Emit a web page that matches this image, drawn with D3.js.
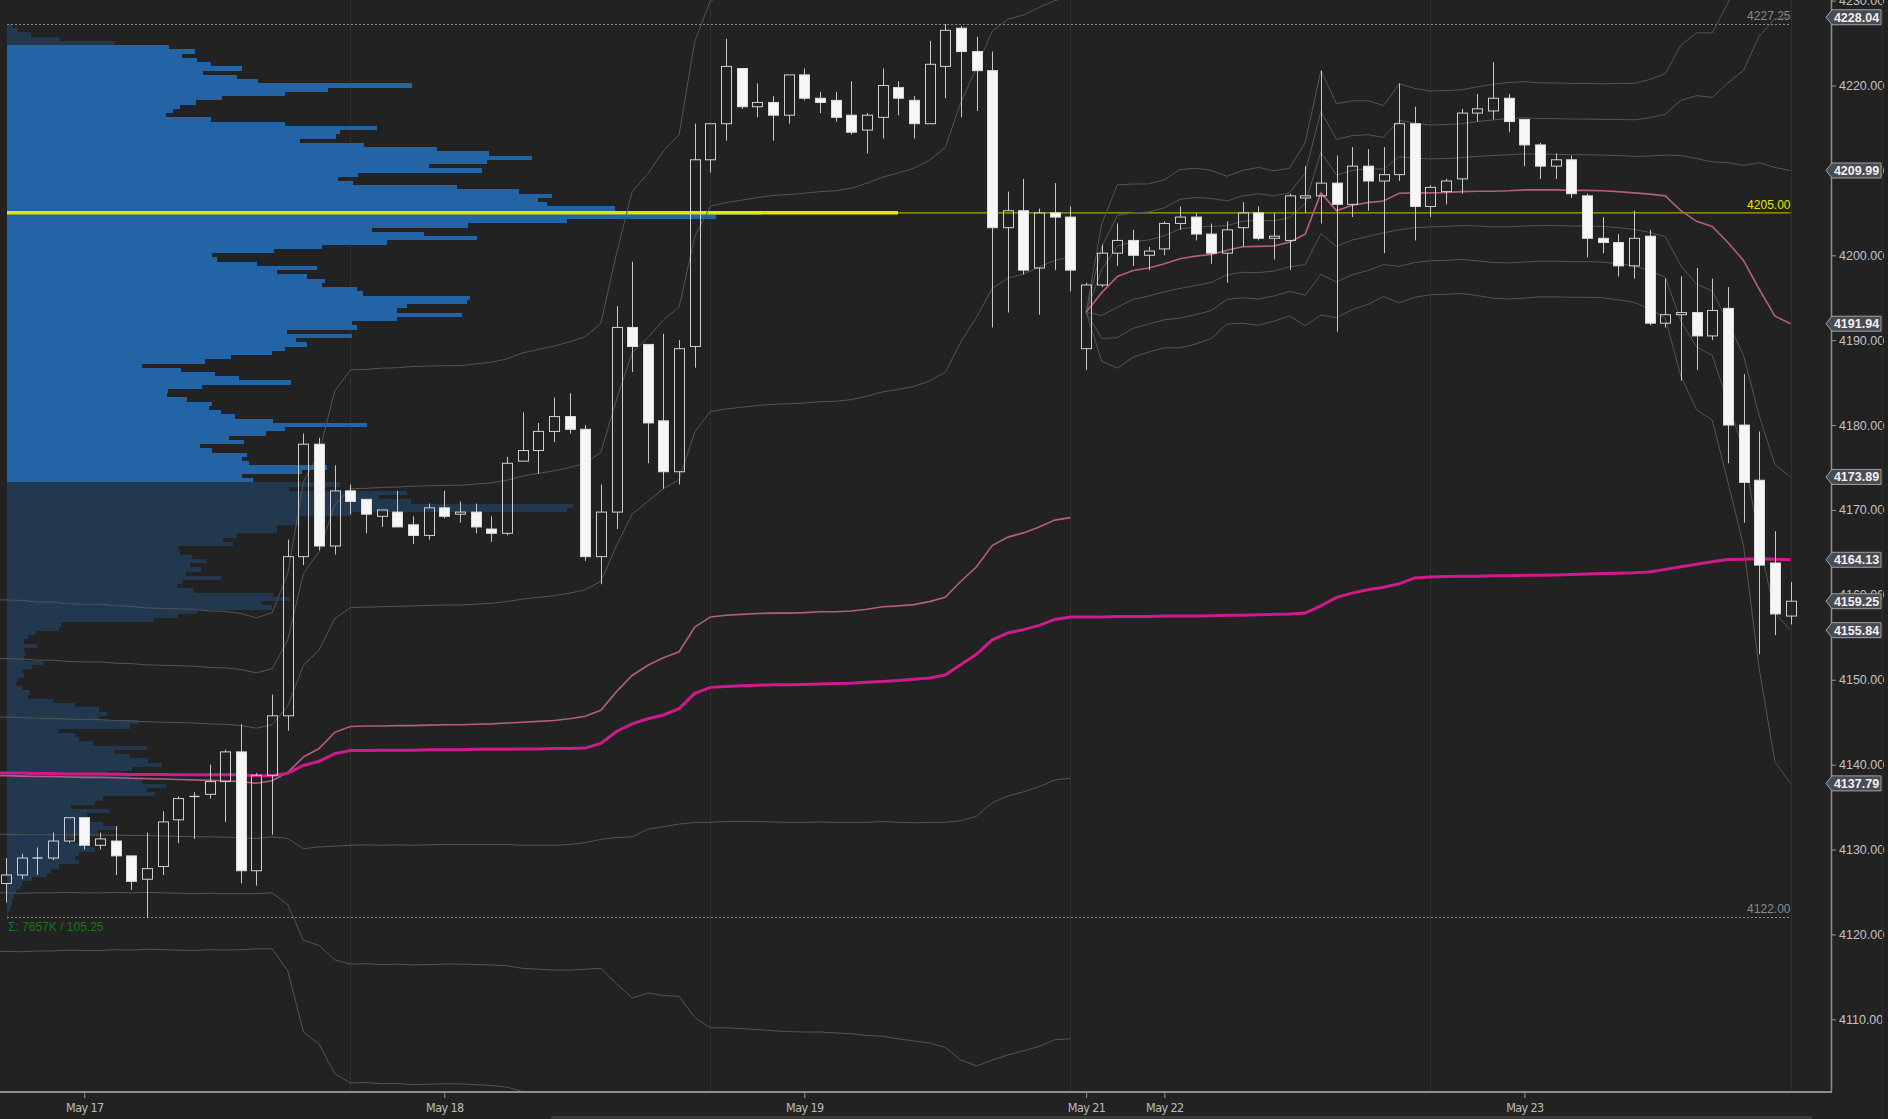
<!DOCTYPE html>
<html><head><meta charset="utf-8">
<script src="https://cdn.jsdelivr.net/npm/d3@7"></script>
<style>html,body{margin:0;padding:0;background:#222;overflow:hidden}</style>
</head><body>
<svg id="c" width="1888" height="1119"></svg>
<script>
// ---------------- DATA ----------------
const candleOpen = [
4126.0,4127.0,4129.0,4129.0,4131.0,4133.75,4130.5,4131.0,4129.25,4126.5,
4128.0,4133.5,4136.25,4136.5,4138.0,4141.5,4127.5,4138.75,4145.75,4164.5,
4177.75,4165.75,4172.25,4171.25,4169.25,4169.75,4168.25,4167.0,4170.25,4169.5,
4169.75,4167.75,4167.25,4175.75,4177.0,4179.25,4181.0,4179.5,4164.5,4169.75,
4191.5,4189.5,4180.5,4174.5,4189.25,4211.25,4215.5,4222.0,4217.5,4218.0,
4216.5,4221.25,4218.5,4218.25,4216.5,4214.75,4216.25,4219.75,4218.25,4215.5,
4222.25,4226.75,4224.0,4221.75,4203.25,4205.25,4198.5,4205.0,4204.5,4189.0,
4196.5,4200.25,4201.75,4200.0,4200.75,4203.75,4204.5,4202.5,4200.25,4203.25,
4205.0,4202.0,4201.75,4206.75,4207.0,4208.5,4206.0,4210.5,4208.75,4209.5,
4215.5,4205.75,4207.5,4209.0,4216.75,4217.0,4218.5,4216.0,4213.0,4210.5,
4211.25,4207.0,4202.0,4201.5,4198.75,4202.25,4192.0,4193.0,4193.25,4190.5,
4193.75,4180.0,4173.5,4163.75,4157.5];
const candleHigh = [
4129.0,4129.5,4130.25,4132.0,4133.75,4133.75,4132.0,4132.75,4129.25,4132.0,
4134.5,4136.25,4136.75,4140.0,4141.75,4144.75,4139.0,4148.25,4166.5,4179.0,
4178.5,4175.25,4173.0,4171.25,4170.0,4172.25,4169.25,4170.75,4172.25,4171.0,
4170.75,4169.25,4176.25,4181.5,4180.25,4183.25,4183.75,4180.0,4173.0,4194.0,
4199.25,4189.5,4190.75,4190.0,4215.5,4215.5,4225.5,4222.0,4220.25,4218.75,
4221.25,4222.0,4219.25,4219.25,4220.5,4216.75,4222.0,4220.5,4218.75,4225.25,
4227.25,4227.0,4225.75,4224.0,4207.5,4209.0,4205.5,4208.5,4205.75,4196.75,
4201.25,4203.75,4203.0,4201.0,4204.0,4205.75,4205.0,4203.75,4204.0,4206.25,
4205.75,4205.0,4207.25,4210.5,4221.75,4211.75,4212.75,4212.5,4212.75,4220.25,
4217.5,4208.25,4209.0,4217.25,4219.0,4222.75,4219.0,4216.0,4213.25,4212.0,
4211.75,4207.25,4204.5,4202.5,4205.25,4203.0,4197.25,4197.5,4198.5,4197.25,
4196.25,4186.0,4179.25,4167.5,4161.5];
const candleLow = [
4123.75,4126.5,4127.0,4128.75,4130.75,4130.0,4130.0,4127.0,4125.25,4122.0,
4127.0,4130.75,4131.25,4136.0,4133.25,4126.0,4125.75,4131.75,4144.0,4163.5,
4165.25,4164.75,4169.5,4167.25,4168.0,4168.0,4166.0,4166.5,4169.0,4168.5,
4167.25,4166.25,4167.0,4175.75,4174.25,4178.0,4179.0,4164.0,4161.25,4167.75,
4186.25,4175.5,4172.5,4173.0,4186.75,4209.75,4213.5,4217.25,4216.25,4213.5,
4215.5,4218.25,4216.75,4215.75,4214.25,4212.0,4213.75,4216.5,4213.75,4215.5,
4218.5,4216.25,4217.0,4191.5,4193.25,4197.75,4193.0,4198.25,4195.75,4186.5,
4196.25,4198.75,4198.75,4198.25,4200.0,4203.0,4201.75,4199.0,4196.75,4201.0,
4201.75,4199.5,4198.25,4205.0,4203.75,4191.0,4204.5,4205.25,4200.25,4208.75,
4201.75,4204.5,4206.0,4207.25,4215.75,4216.0,4214.5,4210.5,4209.0,4209.0,
4206.75,4199.75,4200.25,4197.5,4197.25,4191.75,4191.5,4185.25,4186.5,4190.0,
4175.5,4168.5,4153.0,4155.25,4156.5];
const candleClose = [
4127.0,4129.0,4129.0,4131.0,4133.75,4130.5,4131.25,4129.25,4126.25,4127.75,
4133.25,4136.0,4136.25,4138.0,4141.5,4127.5,4138.75,4145.75,4164.5,4177.75,
4165.75,4172.25,4171.0,4169.5,4170.0,4168.0,4167.0,4170.25,4169.25,4169.75,
4168.0,4167.25,4175.5,4177.0,4179.25,4181.0,4179.5,4164.5,4169.75,4191.5,
4189.25,4180.25,4174.5,4189.0,4211.25,4215.5,4222.25,4217.5,4218.0,4216.5,
4221.25,4218.5,4218.0,4216.25,4214.5,4216.5,4220.0,4218.5,4215.5,4222.5,
4226.5,4224.0,4221.75,4203.25,4205.25,4198.25,4205.0,4204.5,4198.25,4196.5,
4200.25,4201.75,4200.0,4200.5,4203.75,4204.5,4202.5,4200.25,4203.0,4205.0,
4202.0,4202.25,4207.0,4207.0,4208.5,4206.0,4210.5,4208.75,4209.5,4215.5,
4205.75,4208.0,4208.75,4216.75,4217.25,4218.5,4215.75,4213.0,4210.5,4211.25,
4207.25,4202.0,4201.5,4198.75,4202.0,4192.0,4193.0,4193.25,4190.5,4193.5,
4180.0,4173.25,4163.5,4157.75,4159.25];

// date labels on the time axis (bar index of each label)
const dateLabels = ["May 17","May 18","May 19","May 21","May 22","May 23"];
const dateIndex  = [5,28,51,69,74,97];
// session close bars (vertical separators)
const sessionBreakIndex = [22,45,68,91,114];

// weekly VWAP, first week (bars -1..68) and its standard deviation
const vwapWeekAStart = -1;
const vwapWeekA = [
4138.7,4138.7,4138.65,4138.6,4138.6,4138.55,4138.5,4138.5,4138.45,4138.4,
4138.35,4138.3,4138.25,4138.2,4138.15,4138.1,4138.0,4137.8,4138.1,4139.1,
4140.9,4141.9,4143.8,4144.5,4144.55,4144.55,4144.6,4144.6,4144.65,4144.7,
4144.7,4144.75,4144.8,4144.9,4145.0,4145.1,4145.2,4145.4,4145.7,4146.4,
4148.6,4150.5,4151.7,4152.6,4153.3,4156.2,4157.4,4157.6,4157.7,4157.8,
4157.85,4157.85,4157.9,4158.0,4158.0,4158.1,4158.3,4158.6,4158.7,4158.85,
4159.2,4159.7,4161.6,4163.3,4165.8,4166.8,4167.3,4168.0,4168.8,4169.1];
const sdWeekA = [
6.9,6.9,6.9,6.85,6.85,6.8,6.8,6.8,6.75,6.75,
6.7,6.7,6.7,6.7,6.65,6.65,6.6,6.5,6.6,7.8,
10.8,11.6,13.4,14.0,14.0,14.05,14.05,14.1,14.1,14.1,
14.1,14.15,14.2,14.3,14.5,14.6,14.7,14.8,14.9,15.2,
17.2,19.0,19.3,19.9,20.3,23.0,24.2,24.3,24.4,24.5,
24.6,24.65,24.7,24.75,24.8,24.9,25.1,25.3,25.5,25.7,
26.0,26.5,28.2,29.4,30.3,30.5,30.5,30.6,30.6,30.7];
// weekly VWAP, second week (bars 69..114)
const vwapWeekBStart = 69;
const vwapWeekB = [
4193.3,4195.6,4197.5,4198.2,4198.5,4199.0,4199.6,4199.9,4200.1,4200.6,
4201.0,4201.05,4201.1,4201.55,4202.5,4207.35,4205.25,4205.9,4206.2,4206.4,
4207.3,4207.35,4207.35,4207.4,4207.5,4207.55,4207.55,4207.6,4207.7,4207.7,
4207.7,4207.65,4207.65,4207.6,4207.5,4207.35,4207.2,4207.0,4205.25,4204.0,
4203.4,4201.5,4199.4,4196.0,4192.85,4191.94];
const sdWeekB = [
0,2.7,3.6,3.4,3.3,3.3,3.5,3.45,3.3,2.9,
3.0,3.1,2.95,2.9,3.6,4.8,4.2,4.1,4.0,3.75,
4.3,4.1,4.0,4.0,4.0,4.1,4.2,4.25,4.25,4.2,
4.2,4.2,4.2,4.2,4.25,4.3,4.5,4.8,6.5,7.4,
7.6,9.4,11.2,14.9,17.5,18.05];
const bandMultipliers = [-3,-2,-1,1,2,3];

// long-term VWAP (thick magenta), bars -1..114
const vwapLongStart = -1;
const vwapLong = [
4139.0,4139.0,4139.0,4138.95,4138.95,4138.9,4138.9,4138.9,4138.9,4138.85,
4138.85,4138.85,4138.8,4138.8,4138.8,4138.8,4138.8,4138.7,4138.7,4139.0,
4139.9,4140.4,4141.3,4141.65,4141.65,4141.7,4141.7,4141.7,4141.75,4141.75,
4141.75,4141.8,4141.8,4141.8,4141.85,4141.85,4141.9,4141.9,4141.95,4142.5,
4143.9,4144.8,4145.4,4145.85,4146.6,4148.4,4149.1,4149.2,4149.3,4149.35,
4149.4,4149.4,4149.45,4149.5,4149.55,4149.6,4149.7,4149.8,4149.9,4150.05,
4150.2,4150.55,4151.8,4153.0,4154.7,4155.5,4155.9,4156.4,4157.1,4157.4,
4157.4,4157.4,4157.45,4157.45,4157.45,4157.5,4157.5,4157.5,4157.55,4157.6,
4157.6,4157.65,4157.7,4157.75,4157.85,4158.7,4159.7,4160.2,4160.6,4160.9,
4161.3,4162.0,4162.1,4162.15,4162.2,4162.2,4162.25,4162.25,4162.3,4162.3,
4162.35,4162.4,4162.45,4162.5,4162.55,4162.6,4162.7,4163.0,4163.3,4163.6,
4163.9,4164.15,4164.2,4164.25,4164.2,4164.13];

// volume profile: 0.5-point rows from 4227.0 down to 4122.0 (relative volume)
const profileTop = 4227.0, profileStep = 0.5;
const profileVol = [
5,11,24,52,108,162,188,175,190,204,
235,196,230,251,405,321,278,215,189,173,
166,159,204,278,370,333,329,293,357,430,
482,525,480,422,475,351,331,346,450,512,
545,531,540,608,755,709,560,461,365,417,
470,380,315,267,205,210,250,310,270,300,
318,315,350,356,463,460,400,390,455,390,
345,350,280,345,289,300,278,265,224,198,
135,174,208,232,284,195,161,160,180,205,
202,214,228,266,360,278,259,222,237,193,
205,240,235,242,320,295,235,246,333,282,
400,372,404,566,560,345,293,293,270,270,
230,216,226,171,173,185,
200,183,194,179,214,175,170,187,266,283,
254,265,190,171,147,54,52,28,21,17,
30,17,19,17,36,25,15,17,11,9,
15,23,21,46,68,92,100,92,132,123,
52,68,72,86,140,108,123,141,155,125,
100,123,135,159,140,148,96,88,64,102,
80,76,96,111,91,68,60,76,88,72,
68,72,52,44,40,25,15,13,9,7,
5,5,3,1,1];
const valueAreaHigh = 4224.5, valueAreaLow = 4173.5, pocPrice = 4205.0;
const profileHigh = 4227.25, profileLow = 4122.0;
const profileSummary = "Σ: 7657K / 105.25";
const priceTicks = [4110,4120,4130,4140,4150,4160,4170,4180,4190,4200,4210,4220,4230];

// ---------------- LAYOUT ----------------
const W = 1888, H = 1119, PR = 1831, PB = 1092;
const FONT = 'Liberation Sans, Arial, sans-serif';
const svg = d3.select('#c');
svg.append('rect').attr('width', W).attr('height', H).attr('fill', '#222222');

const x = d3.scaleLinear().domain([0, 114]).range([6.02, 1790.5]);
const y = d3.scaleLinear().domain([4220, 4110]).range([85.5, 1019.3]);
const px = d3.scaleLinear().domain([0, 755]).range([7, 762]);
const xEnd = x(114);

svg.append('defs').append('clipPath').attr('id', 'clip')
  .append('rect').attr('x', 0).attr('y', 0).attr('width', PR).attr('height', PB);
const g = svg.append('g').attr('clip-path', 'url(#clip)');

// session separators
g.selectAll('line.sep').data(sessionBreakIndex).join('line')
  .attr('x1', d => Math.round(x(d)) + 0.5).attr('x2', d => Math.round(x(d)) + 0.5)
  .attr('y1', 0).attr('y2', PB).attr('stroke', '#303030').attr('stroke-width', 1);

// volume profile (pixel-snapped rows, no seams)
const rows = profileVol.map((v, k) => ({ p: profileTop - k * profileStep, v }));
const inVA = r => r.p <= valueAreaHigh && r.p >= valueAreaLow;
g.append('g').attr('shape-rendering', 'crispEdges')
  .selectAll('rect').data(rows).join('rect')
  .attr('x', px(0))
  .attr('y', d => Math.round(y(d.p + profileStep / 2)))
  .attr('height', d => Math.round(y(d.p - profileStep / 2)) - Math.round(y(d.p + profileStep / 2)))
  .attr('width', d => Math.max(1, Math.round(px(d.v) - px(0))))
  .attr('fill', d => inVA(d) ? '#2264a5' : '#22384f');

// profile high / low dashed lines
[profileHigh, profileLow].forEach(v => {
  g.append('line').attr('x1', px(0)).attr('x2', xEnd).attr('y1', Math.round(y(v)) + 0.5).attr('y2', Math.round(y(v)) + 0.5)
    .attr('stroke', '#8a8a8a').attr('stroke-width', 1).attr('stroke-dasharray', '2,2');
  g.append('text').attr('x', xEnd).attr('y', y(v) - 4).attr('text-anchor', 'end')
    .attr('font-family', FONT).attr('font-size', 12)
    .attr('fill', '#8a8a8a').text(v.toFixed(2));
});
g.append('text').attr('x', 8).attr('y', y(profileLow) + 14)
  .attr('font-family', FONT).attr('font-size', 12)
  .attr('fill', '#1d731d').text(profileSummary);

// POC line
const pocY = y(pocPrice);
g.append('line').attr('x1', px(0)).attr('x2', 898).attr('y1', pocY).attr('y2', pocY)
  .attr('stroke', '#e6e600').attr('stroke-width', 3.5);
g.append('line').attr('x1', 898).attr('x2', xEnd).attr('y1', pocY).attr('y2', pocY)
  .attr('stroke', '#a8a800').attr('stroke-width', 1.3);
g.append('text').attr('x', xEnd).attr('y', pocY - 4).attr('text-anchor', 'end')
  .attr('font-family', FONT).attr('font-size', 12)
  .attr('fill', '#e8e800').text(pocPrice.toFixed(2));

// VWAP bands
const line = d3.line().x(d => x(d.i)).y(d => y(d.v));
function series(arr, start) { return arr.map((v, k) => ({ i: start + k, v })); }
function bands(vw, sd, start) {
  bandMultipliers.forEach(m => {
    const pts = vw.map((v, k) => ({ i: start + k, v: v + m * sd[k] }));
    g.append('path').attr('d', line(pts)).attr('fill', 'none')
      .attr('stroke', '#545454').attr('stroke-width', 1);
  });
}
bands(vwapWeekA, sdWeekA, vwapWeekAStart);
bands(vwapWeekB, sdWeekB, vwapWeekBStart);
[[vwapWeekA, vwapWeekAStart], [vwapWeekB, vwapWeekBStart]].forEach(([arr, st]) => {
  g.append('path').attr('d', line(series(arr, st))).attr('fill', 'none')
    .attr('stroke', '#b45c85').attr('stroke-width', 1.6);
});
g.append('path').attr('d', line(series(vwapLong, vwapLongStart))).attr('fill', 'none')
  .attr('stroke', '#cf1a8d').attr('stroke-width', 3);

// candles
const candles = candleOpen.map((o, i) => ({ i, o, h: candleHigh[i], l: candleLow[i], c: candleClose[i] }));
const cg = g.append('g');
candles.forEach(d => {
  const xc = Math.round(x(d.i)) + 0.5;
  const top = y(Math.max(d.o, d.c)), bot = y(Math.min(d.o, d.c));
  cg.append('line').attr('x1', xc).attr('x2', xc).attr('y1', y(d.h)).attr('y2', top)
    .attr('stroke', '#c8c8c8').attr('stroke-width', 1);
  cg.append('line').attr('x1', xc).attr('x2', xc).attr('y1', bot).attr('y2', y(d.l))
    .attr('stroke', '#c8c8c8').attr('stroke-width', 1);
  const hgt = Math.max(bot - top, 1.2);
  if (d.c > d.o) {
    cg.append('rect').attr('x', xc - 5).attr('y', top).attr('width', 10).attr('height', hgt)
      .attr('fill', 'none').attr('stroke', '#d0d0d0').attr('stroke-width', 1);
  } else if (d.c < d.o) {
    cg.append('rect').attr('x', xc - 5).attr('y', top).attr('width', 10).attr('height', hgt)
      .attr('fill', '#f6f6f6').attr('stroke', '#dcdcdc').attr('stroke-width', 1);
  } else {
    cg.append('line').attr('x1', xc - 5).attr('x2', xc + 5).attr('y1', top).attr('y2', top)
      .attr('stroke', '#d0d0d0').attr('stroke-width', 1.4);
  }
});

// ---------------- AXES ----------------
const yAxis = d3.axisRight(y).tickValues(priceTicks).tickFormat(d3.format('.2f')).tickSize(5).tickPadding(3);
const ya = svg.append('g').attr('transform', `translate(${PR},0)`).call(yAxis);
ya.select('.domain').remove();
ya.selectAll('line').attr('stroke', '#9a9a9a');
ya.selectAll('text').attr('fill', '#c2c2c2').attr('font-size', 12.5)
  .attr('font-family', FONT);
svg.append('line').attr('x1', PR + 0.5).attr('x2', PR + 0.5).attr('y1', 0).attr('y2', PB)
  .attr('stroke', '#8e8e8e').attr('stroke-width', 1.5);
svg.append('line').attr('x1', 0).attr('x2', PR + 1).attr('y1', PB).attr('y2', PB)
  .attr('stroke', '#8e8e8e').attr('stroke-width', 2);

const xAxis = d3.axisBottom(x).tickValues(dateIndex).tickFormat((d, k) => dateLabels[k]).tickSize(5).tickPadding(5);
const xa = svg.append('g').attr('transform', `translate(0,${PB + 1})`).call(xAxis);
xa.select('.domain').remove();
xa.selectAll('line').attr('stroke', '#9a9a9a');
xa.selectAll('text').attr('fill', '#bcbcbc').attr('font-size', 12.5)
  .attr('font-family', 'Liberation Sans Narrow, DejaVu Sans Condensed, sans-serif')
  .attr('font-stretch', 'condensed').attr('letter-spacing', -0.6);

// scrollbar remnants
svg.append('rect').attr('x', 551).attr('y', 1116).attr('width', 1261).attr('height', 3).attr('fill', '#3a3a3a');
svg.append('line').attr('x1', 1882.5).attr('x2', 1882.5).attr('y1', 0).attr('y2', H).attr('stroke', '#2e2e2e');

// ---------------- PRICE TAGS ----------------
const nB = vwapWeekB.length - 1;
const vB = vwapWeekB[nB], sB = sdWeekB[nB];
const tagValues = bandMultipliers.map(m => vB + m * sB).concat([vB, vwapLong[vwapLong.length - 1], candleClose[candleClose.length - 1]]);
tagValues.filter(v => y(v) > 5 && y(v) < PB).forEach(v => {
  const ty = y(v);
  const tg = svg.append('g');
  tg.append('path').attr('d', `M${PR - 5},${ty} L${PR + 1},${ty - 7.5} L${PR + 50},${ty - 7.5} L${PR + 50},${ty + 7.5} L${PR + 1},${ty + 7.5} Z`)
    .attr('fill', '#484b53').attr('stroke', '#a0a0a0').attr('stroke-width', 1);
  tg.append('text').attr('x', PR + 25.5).attr('y', ty + 4.5).attr('text-anchor', 'middle')
    .attr('font-family', FONT).attr('font-size', 12.5).attr('font-weight', 'bold')
    .attr('fill', '#f2f2f2').text(v.toFixed(2));
});
</script>
</body></html>
